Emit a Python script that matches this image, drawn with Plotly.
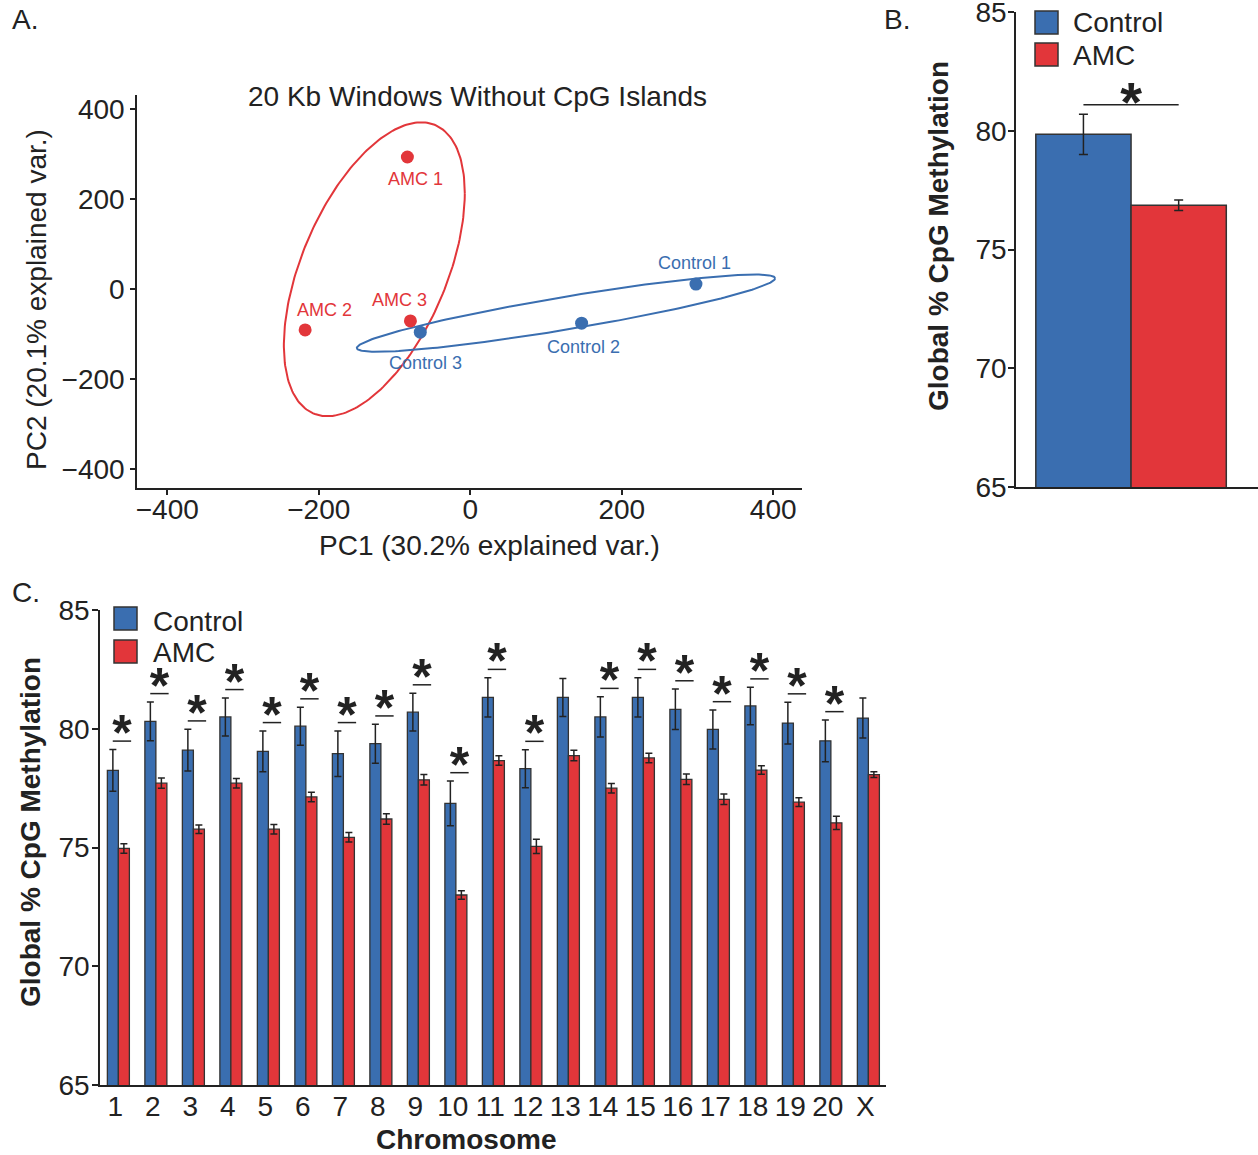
import numpy as np
import plotly.graph_objects as go

# ---------------- data ----------------
# Panel A: PCA scores
pca_labels_amc = ["AMC 1", "AMC 2", "AMC 3"]
pca_amc_pc1 = [-83, -218, -79]
pca_amc_pc2 = [294, -91, -71]
pca_labels_ctrl = ["Control 1", "Control 2", "Control 3"]
pca_ctrl_pc1 = [298, 147, -66]
pca_ctrl_pc2 = [11, -76, -96]

# Panel B: global methylation
global_groups = ["Control", "AMC"]
global_mean = [79.85, 76.86]
global_err = [0.85, 0.22]

# Panel C: per chromosome
chromosomes = ["1", "2", "3", "4", "5", "6", "7", "8", "9", "10", "11", "12",
               "13", "14", "15", "16", "17", "18", "19", "20", "X"]
ctrl_mean = [78.25, 80.31, 79.1, 80.5, 79.05, 80.11, 78.95, 79.37, 80.7, 76.86, 81.32, 78.32,
             81.32, 80.5, 81.32, 80.82, 79.97, 80.96, 80.24, 79.49, 80.45]
ctrl_err = [0.88, 0.82, 0.88, 0.8, 0.86, 0.8, 0.96, 0.82, 0.8, 0.94, 0.83, 0.8,
            0.8, 0.85, 0.83, 0.85, 0.82, 0.79, 0.88, 0.88, 0.84]
amc_mean = [74.96, 77.71, 75.77, 77.71, 75.77, 77.13, 75.43, 76.2, 77.85, 73.0, 78.66, 75.05,
            78.87, 77.5, 78.77, 77.87, 77.03, 78.26, 76.91, 76.04, 78.07]
amc_err = [0.2, 0.22, 0.18, 0.2, 0.2, 0.2, 0.2, 0.22, 0.22, 0.18, 0.2, 0.3,
           0.22, 0.2, 0.2, 0.22, 0.22, 0.18, 0.18, 0.28, 0.12]
significant = [True] * 12 + [False] + [True] * 7 + [False]

# ---------------- style ----------------
BLUE = "#3a6eb0"
RED = "#e2363a"
DARK = "#222222"
OUTLINE = "#333333"
FONT = "Liberation Sans, Arial, sans-serif"
FS = 28
W, H = 1258, 1155


def px_x(p):
    return p / W


def px_y(p):
    return (H - p) / H


def ellipse(xs, ys, prob=0.68, n=240):
    pts = np.column_stack([xs, ys]).astype(float)
    mu = pts.mean(axis=0)
    cov = np.cov(pts.T)
    r = np.sqrt(-2.0 * np.log(1.0 - prob))
    L = np.linalg.cholesky(cov)
    t = np.linspace(0, 2 * np.pi, n)
    circ = np.column_stack([np.cos(t), np.sin(t)])
    e = mu + r * circ @ L.T
    return e[:, 0], e[:, 1]


fig = go.Figure()
ann = []

# ---------------- Panel A ----------------
ex, ey = ellipse(pca_amc_pc1, pca_amc_pc2)
fig.add_trace(go.Scatter(x=ex, y=ey, mode="lines", line=dict(color=RED, width=2),
                         xaxis="x", yaxis="y", showlegend=False, hoverinfo="skip"))
ex, ey = ellipse(pca_ctrl_pc1, pca_ctrl_pc2)
fig.add_trace(go.Scatter(x=ex, y=ey, mode="lines", line=dict(color=BLUE, width=2),
                         xaxis="x", yaxis="y", showlegend=False, hoverinfo="skip"))
fig.add_trace(go.Scatter(x=pca_amc_pc1, y=pca_amc_pc2, mode="markers",
                         marker=dict(color=RED, size=13),
                         xaxis="x", yaxis="y", showlegend=False))
fig.add_trace(go.Scatter(x=pca_ctrl_pc1, y=pca_ctrl_pc2, mode="markers",
                         marker=dict(color=BLUE, size=13),
                         xaxis="x", yaxis="y", showlegend=False))
amc_shift = [(8, -22), (19, 20), (-11, 21)]
ctrl_shift = [(-1, 21), (2, -24), (5, -31)]
for lab, x, y, (dx, dy) in zip(pca_labels_amc, pca_amc_pc1, pca_amc_pc2, amc_shift):
    ann.append(dict(x=x, y=y, xref="x", yref="y", text=lab, showarrow=False,
                    xshift=dx, yshift=dy, font=dict(family=FONT, size=18, color=RED)))
for lab, x, y, (dx, dy) in zip(pca_labels_ctrl, pca_ctrl_pc1, pca_ctrl_pc2, ctrl_shift):
    ann.append(dict(x=x, y=y, xref="x", yref="y", text=lab, showarrow=False,
                    xshift=dx, yshift=dy, font=dict(family=FONT, size=18, color=BLUE)))

# ---------------- Panel B ----------------
fig.add_trace(go.Bar(x=[0, 1], y=global_mean, width=[1, 1],
                     marker=dict(color=[BLUE, RED], line=dict(color=OUTLINE, width=1.5)),
                     error_y=dict(type="data", array=global_err, color=DARK, thickness=1.5, width=4.5),
                     xaxis="x2", yaxis="y2", showlegend=False))
sig_y_b = max(m + e for m, e in zip(global_mean, global_err)) + 0.4
fig.add_trace(go.Scatter(x=[0, 1], y=[sig_y_b, sig_y_b], mode="lines",
                         line=dict(color=DARK, width=1.5),
                         xaxis="x2", yaxis="y2", showlegend=False, hoverinfo="skip"))
fig.add_trace(go.Scatter(x=[0.5], y=[sig_y_b - 0.1], mode="text", text=["<b>*</b>"],
                         textposition="middle center",
                         textfont=dict(color=DARK, size=56, family=FONT),
                         xaxis="x2", yaxis="y2", showlegend=False, hoverinfo="skip"))

# ---------------- Panel C ----------------
idx = list(range(len(chromosomes)))
fig.add_trace(go.Bar(x=idx, y=ctrl_mean, name="Control",
                     marker=dict(color=BLUE, line=dict(color=OUTLINE, width=1.3)),
                     error_y=dict(type="data", array=ctrl_err, color=DARK, thickness=1.5, width=3.5),
                     xaxis="x3", yaxis="y3", showlegend=False))
fig.add_trace(go.Bar(x=idx, y=amc_mean, name="AMC",
                     marker=dict(color=RED, line=dict(color=OUTLINE, width=1.3)),
                     error_y=dict(type="data", array=amc_err, color=DARK, thickness=1.5, width=3.5),
                     xaxis="x3", yaxis="y3", showlegend=False))
lx, ly, sx, sy = [], [], [], []
for i, sig in enumerate(significant):
    if not sig:
        continue
    top = ctrl_mean[i] + ctrl_err[i]
    lx += [i - 0.15, i + 0.34, None]
    ly += [top + 0.35, top + 0.35, None]
    sx.append(i + 0.095)
    sy.append(top + 0.5)
fig.add_trace(go.Scatter(x=lx, y=ly, mode="lines", line=dict(color=DARK, width=1.5),
                         xaxis="x3", yaxis="y3", showlegend=False, hoverinfo="skip"))
fig.add_trace(go.Scatter(x=sx, y=sy, mode="text", text=["<b>*</b>"] * len(sx),
                         textposition="middle center",
                         textfont=dict(color=DARK, size=50, family=FONT),
                         xaxis="x3", yaxis="y3", showlegend=False, hoverinfo="skip"))

# ---------------- axes ----------------
axis_common = dict(showline=True, linecolor=DARK, linewidth=1.5, showgrid=False, zeroline=False,
                   ticks="outside", tickcolor=DARK, tickwidth=1.5, automargin=False,
                   ticklabeloverflow="allow",
                   tickfont=dict(family=FONT, size=FS, color=DARK))

fig.update_layout(
    width=W, height=H, margin=dict(l=0, r=0, t=0, b=0, pad=0), autosize=False,
    paper_bgcolor="white", plot_bgcolor="white",
    font=dict(family=FONT, color=DARK),
    barmode="group", bargap=0.413, bargroupgap=0,
    xaxis=dict(domain=[px_x(137), px_x(802)], range=[-440, 438], anchor="y",
               tickvals=[-400, -200, 0, 200, 400], ticklen=5, ticklabelstandoff=-9,
               **axis_common),
    yaxis=dict(domain=[px_y(488), px_y(95)], range=[-443, 432], anchor="x",
               tickvals=[-400, -200, 0, 200, 400], ticklen=5, **axis_common),
    xaxis2=dict(domain=[px_x(1016), 1.0], range=[-0.708, 1.833], anchor="y2",
                showline=True, linecolor=DARK, linewidth=1.5, showgrid=False, zeroline=False,
                showticklabels=False, ticks="", automargin=False),
    yaxis2=dict(domain=[px_y(487), px_y(12)], range=[65, 85], anchor="x2",
                tickvals=[65, 70, 75, 80, 85], ticklen=6, ticklabelstandoff=-4, **axis_common),
    xaxis3=dict(domain=[px_x(100), px_x(886)], range=[-0.49, 20.47], anchor="y3",
                tickvals=idx, ticktext=chromosomes, showline=True, linecolor=DARK, linewidth=1.5,
                showgrid=False, zeroline=False, ticks="", automargin=False,
                ticklabelstandoff=-4, ticklabelshift=-3, ticklabeloverflow="allow",
                tickfont=dict(family=FONT, size=FS, color=DARK)),
    yaxis3=dict(domain=[px_y(1085), px_y(610)], range=[65, 85], anchor="x3",
                tickvals=[65, 70, 75, 80, 85], ticklen=6, ticklabelstandoff=-3, **axis_common),
)

# ---------------- text annotations ----------------
def add_text(x, y, text, size, bold=False, angle=0, xanchor="center", color=DARK):
    ann.append(dict(x=px_x(x), y=px_y(y), xref="paper", yref="paper", text=f"<b>{text}</b>" if bold else text,
                    showarrow=False, textangle=angle, xanchor=xanchor, yanchor="middle",
                    font=dict(family=FONT, size=size, color=color)))

add_text(10, 20, "A.", FS, xanchor="left")
add_text(882, 20, "B.", FS, xanchor="left")
add_text(10, 592, "C.", FS, xanchor="left")
add_text(477, 96, "20 Kb Windows Without CpG Islands", FS)
add_text(489, 545, "PC1 (30.2% explained var.)", FS)
add_text(36, 300, "PC2 (20.1% explained var.)", FS, angle=-90)
add_text(938, 236, "Global % CpG Methylation", FS, bold=True, angle=-90)
add_text(31, 832, "Global % CpG Methylation", FS, bold=True, angle=-90)
add_text(466, 1139, "Chromosome", FS, bold=True)

# legends (B and C)
shapes = []
def legend_box(x0, y0, color):
    shapes.append(dict(type="rect", xref="paper", yref="paper", x0=px_x(x0), x1=px_x(x0 + 23),
                       y0=px_y(y0 + 23), y1=px_y(y0), fillcolor=color,
                       line=dict(color=OUTLINE, width=1.5)))

legend_box(1035, 11, BLUE)
legend_box(1035, 43, RED)
add_text(1071, 23, global_groups[0], FS, xanchor="left")
add_text(1071, 55, global_groups[1], FS, xanchor="left")
legend_box(114, 607, BLUE)
legend_box(114, 640, RED)
add_text(151, 621, "Control", FS, xanchor="left")
add_text(151, 653, "AMC", FS, xanchor="left")

fig.update_layout(annotations=ann, shapes=shapes)
fig.write_html("out.html", config={"displayModeBar": False},
               post_script="document.body.style.margin='0px';")
